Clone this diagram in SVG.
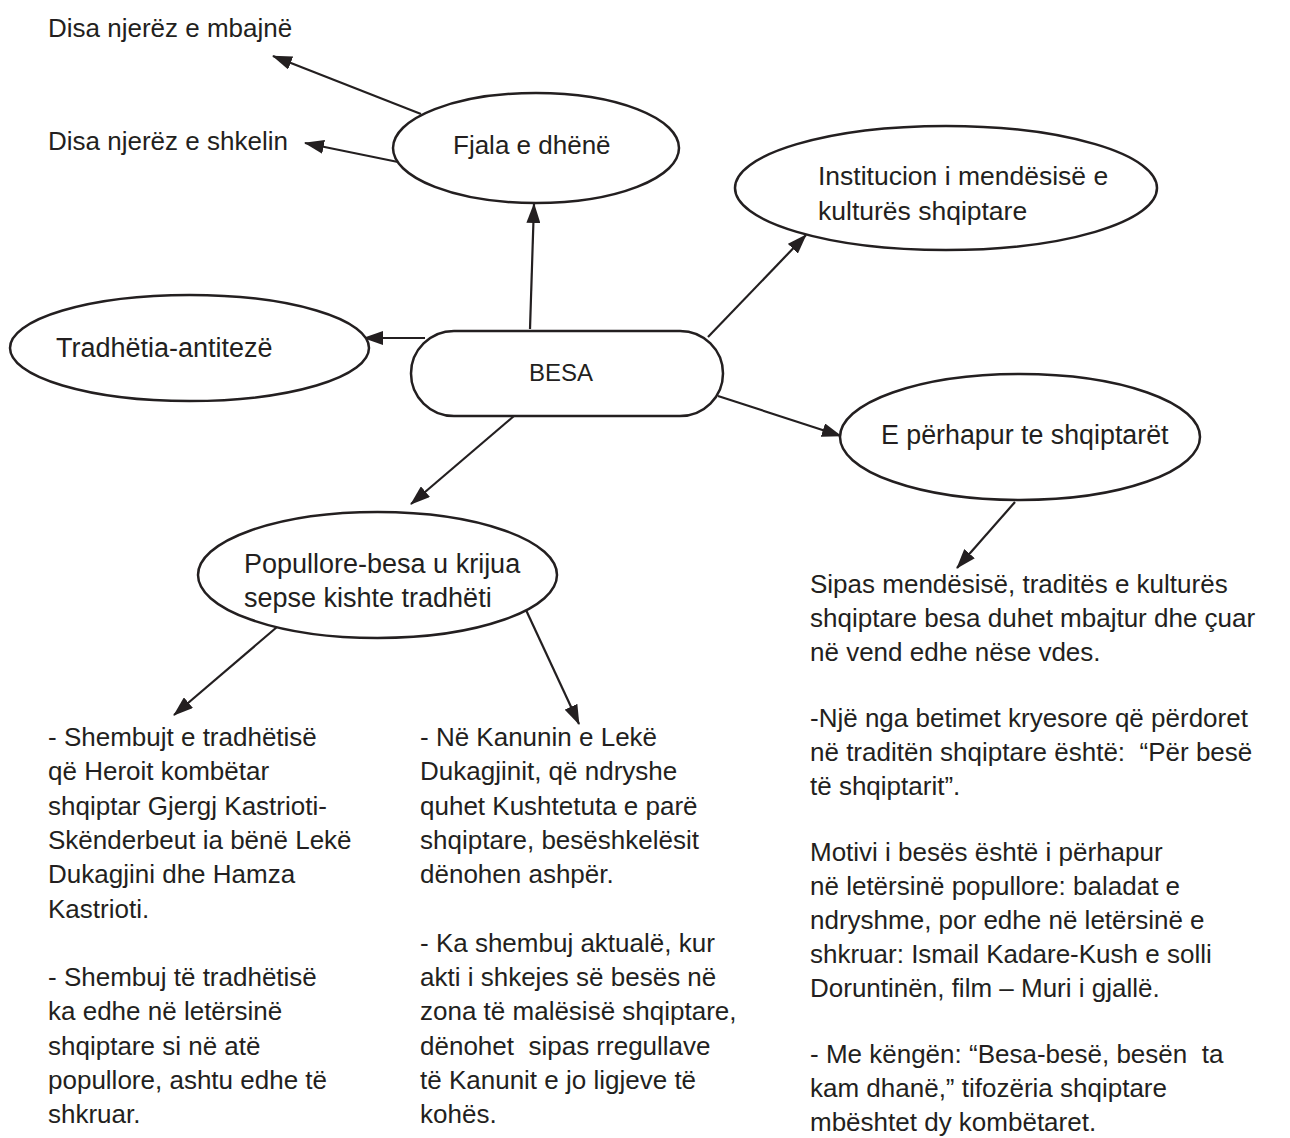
<svg xmlns="http://www.w3.org/2000/svg" width="1290" height="1138" viewBox="0 0 1290 1138">
<style>
text{font-family:"Liberation Sans",Arial,sans-serif;font-size:26px;fill:#231f20}
.shape{fill:#fff;stroke:#231f20;stroke-width:2.5}
.conn line{stroke:#231f20;stroke-width:2.2;marker-end:url(#ah)}
</style>
<defs>
<marker id="ah" markerUnits="userSpaceOnUse" markerWidth="20" markerHeight="14" refX="19" refY="7" orient="auto">
<path d="M0,0 L20,7 L0,14 z" fill="#231f20"/>
</marker>
</defs>
<rect width="1290" height="1138" fill="#fff"/>
<g id="connectors" class="conn">
<line x1="421" y1="114" x2="273" y2="56"/>
<line x1="398" y1="162" x2="305" y2="143"/>
<line x1="530" y1="329" x2="534" y2="204"/>
<line x1="425" y1="338" x2="364" y2="338"/>
<line x1="708" y1="337" x2="806" y2="235"/>
<line x1="718" y1="396" x2="841" y2="436"/>
<line x1="1015" y1="502" x2="957" y2="568"/>
<line x1="514" y1="416" x2="411" y2="504"/>
<line x1="277" y1="627" x2="174" y2="715"/>
<line x1="526" y1="610" x2="579" y2="724"/>
</g>
<g id="n-mbajne"><text x="48" y="37">Disa njerëz e mbajnë</text></g>
<g id="n-shkelin"><text x="48" y="150">Disa njerëz e shkelin</text></g>
<g id="n-fjala"><ellipse class="shape" cx="536" cy="148" rx="143" ry="55"/><text x="453" y="154">Fjala e dhënë</text></g>
<g id="n-institucion"><ellipse class="shape" cx="946" cy="188" rx="211" ry="62"/><text x="818" y="185" style="font-size:26.5px">Institucion i mendësisë e</text><text x="818" y="220" style="font-size:26.5px">kulturës shqiptare</text></g>
<g id="n-tradhetia"><ellipse class="shape" cx="189.5" cy="348" rx="179.5" ry="53"/><text x="56" y="357" style="font-size:27px">Tradhëtia-antitezë</text></g>
<g id="n-besa"><rect class="shape" x="411" y="331" width="312" height="85" rx="43" ry="43"/><text x="561" y="381" text-anchor="middle" style="font-size:24px">BESA</text></g>
<g id="n-perhapur"><ellipse class="shape" cx="1020" cy="437" rx="180" ry="63"/><text x="881" y="444" style="font-size:26.8px">E përhapur te shqiptarët</text></g>
<g id="n-popullore"><ellipse class="shape" cx="377.5" cy="575" rx="179.5" ry="63"/><text x="244" y="573" style="font-size:27px">Popullore-besa u krijua</text><text x="244" y="607" style="font-size:27px">sepse kishte tradhëti</text></g>
<g id="n-tekst-a"><text x="48" y="746">
<tspan x="48">- Shembujt e tradhëtisë</tspan>
<tspan x="48" dy="34.3">që Heroit kombëtar</tspan>
<tspan x="48" dy="34.3">shqiptar Gjergj Kastrioti-</tspan>
<tspan x="48" dy="34.3">Skënderbeut ia bënë Lekë</tspan>
<tspan x="48" dy="34.3">Dukagjini dhe Hamza</tspan>
<tspan x="48" dy="34.3">Kastrioti.</tspan>
<tspan x="48" dy="68.6">- Shembuj të tradhëtisë</tspan>
<tspan x="48" dy="34.3">ka edhe në letërsinë</tspan>
<tspan x="48" dy="34.3">shqiptare si në atë</tspan>
<tspan x="48" dy="34.3">popullore, ashtu edhe të</tspan>
<tspan x="48" dy="34.3">shkruar.</tspan>
</text></g>
<g id="n-tekst-b"><text x="420" y="746">
<tspan x="420">- Në Kanunin e Lekë</tspan>
<tspan x="420" dy="34.3">Dukagjinit, që ndryshe</tspan>
<tspan x="420" dy="34.3">quhet Kushtetuta e parë</tspan>
<tspan x="420" dy="34.3">shqiptare, besëshkelësit</tspan>
<tspan x="420" dy="34.3">dënohen ashpër.</tspan>
<tspan x="420" dy="68.6">- Ka shembuj aktualë, kur</tspan>
<tspan x="420" dy="34.3">akti i shkejes së besës në</tspan>
<tspan x="420" dy="34.3">zona të malësisë shqiptare,</tspan>
<tspan x="420" dy="34.3" xml:space="preserve">dënohet  sipas rregullave</tspan>
<tspan x="420" dy="34.3">të Kanunit e jo ligjeve të</tspan>
<tspan x="420" dy="34.3">kohës.</tspan>
</text></g>
<g id="n-tekst-c"><text x="810" y="593">
<tspan x="810">Sipas mendësisë, traditës e kulturës</tspan>
<tspan x="810" dy="34">shqiptare besa duhet mbajtur dhe çuar</tspan>
<tspan x="810" dy="34">në vend edhe nëse vdes.</tspan>
<tspan x="810" dy="66">-Një nga betimet kryesore që përdoret</tspan>
<tspan x="810" dy="34" xml:space="preserve">në traditën shqiptare është:  “Për besë</tspan>
<tspan x="810" dy="34">të shqiptarit”.</tspan>
<tspan x="810" dy="66">Motivi i besës është i përhapur</tspan>
<tspan x="810" dy="34">në letërsinë popullore: baladat e</tspan>
<tspan x="810" dy="34">ndryshme, por edhe në letërsinë e</tspan>
<tspan x="810" dy="34">shkruar: Ismail Kadare-Kush e solli</tspan>
<tspan x="810" dy="34">Doruntinën, film – Muri i gjallë.</tspan>
<tspan x="810" dy="66" xml:space="preserve">- Me këngën: “Besa-besë, besën  ta</tspan>
<tspan x="810" dy="34">kam dhanë,” tifozëria shqiptare</tspan>
<tspan x="810" dy="34">mbështet dy kombëtaret.</tspan>
</text></g>
</svg>
